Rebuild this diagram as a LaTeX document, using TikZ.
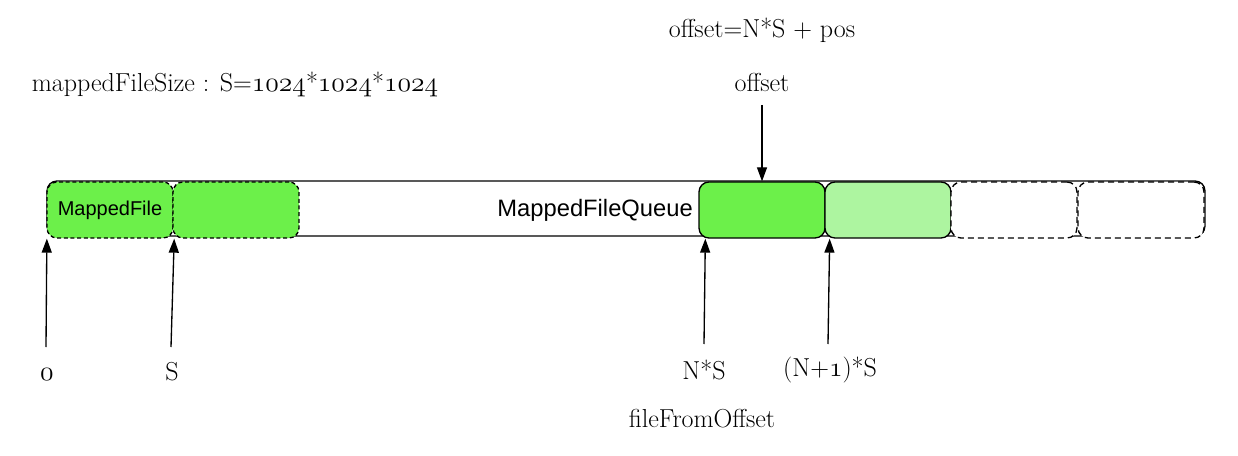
\documentclass[tikz,border=0pt]{standalone}
\usepackage{fontspec}
\setsansfont{Liberation Sans}
\definecolor{mfgreen}{RGB}{108,240,74}
\definecolor{mflight}{RGB}{173,245,160}
\usetikzlibrary{arrows.meta,positioning}
% old-style figures from the math italic font
\newcommand\osnum[1]{{\fontencoding{OML}\fontfamily{lmm}\fontseries{m}\fontshape{it}\selectfont #1}}
\tikzset{
  queuebox/.style={draw,line width=1pt,rounded corners=7.5pt,minimum width=868.5pt,minimum height=41.25pt,inner sep=0pt},
  mfbox/.style={draw,line width=1pt,rounded corners=7.5pt,minimum width=94.5pt,minimum height=42pt,inner sep=0pt,
    font=\sffamily\fontsize{15}{18}\selectfont},
  mfold/.style={mfbox,fill=mfgreen,dash pattern=on 3pt off 2pt},
  mfcur/.style={mfbox,fill=mfgreen},
  mfnext/.style={mfbox,fill=mflight},
  mfempty/.style={mfbox,fill=white,dash pattern=on 4.5pt off 3pt},
  ptr/.style={-{Triangle[width=7.5pt,length=10.5pt]},line width=1pt},
  tlab/.style={font=\fontsize{19.5}{23}\selectfont,inner sep=0pt},
}
\begin{document}
\begin{tikzpicture}[x=0.75pt,y=-0.75pt]
  \useasboundingbox (0,0) rectangle (1238,456);
  % the queue and its mapped files
  \node[queuebox] (queue) at (626,208.5) {};
  \node[anchor=east,inner sep=0pt,font=\sffamily\fontsize{17.8}{21}\selectfont] (qname) at (693,210) {MappedFileQueue};
  \node[mfold] (mf1) at (110,210) {MappedFile};
  \node[mfold] (mf2) at (236,210) {};
  \node[mfcur] (mf3) at (762,210) {};
  \node[mfnext] (mf4) at (888,210) {};
  \node[mfempty] (mf5) at (1014,210) {};
  \node[mfempty] (mf6) at (1141,210) {};
  % texts
  \node[tlab] (formula) at (762,30) {offset=N*S + pos};
  \node[tlab] (fsize) at (235,84) {mappedFileSize : S=\osnum{1024}*\osnum{1024}*\osnum{1024}};
  \node[tlab] (offs) at (762,82) {offset};
  \node[tlab] (lzero) at (47,375) {\osnum{0}};
  \node[tlab] (lone) at (172,372) {S};
  \node[tlab] (ln) at (704,370) {N*S};
  \node[tlab] (lnext) at (830,370) {(N+\osnum{1})*S};
  \node[tlab] (ffo) at (702,419) {fileFromOffset};
  % arrow tails
  \coordinate (t0) at (46,347);
  \coordinate (t1) at (171,347);
  \coordinate (t2) at (704,344);
  \coordinate (t3) at (828,344);
  \coordinate (t4) at (762,105);
  \draw[ptr] (t0) -- ([xshift=0.4pt]mf1.south west);
  \draw[ptr] (t1) -- ([xshift=0.4pt]mf1.south east);
  \draw[ptr] (t2) -- ([xshift=5.25pt]mf3.south west);
  \draw[ptr] (t3) -- ([xshift=3pt]mf3.south east);
  \draw[ptr] (t4) -- (mf3.north);
\end{tikzpicture}
\end{document}
